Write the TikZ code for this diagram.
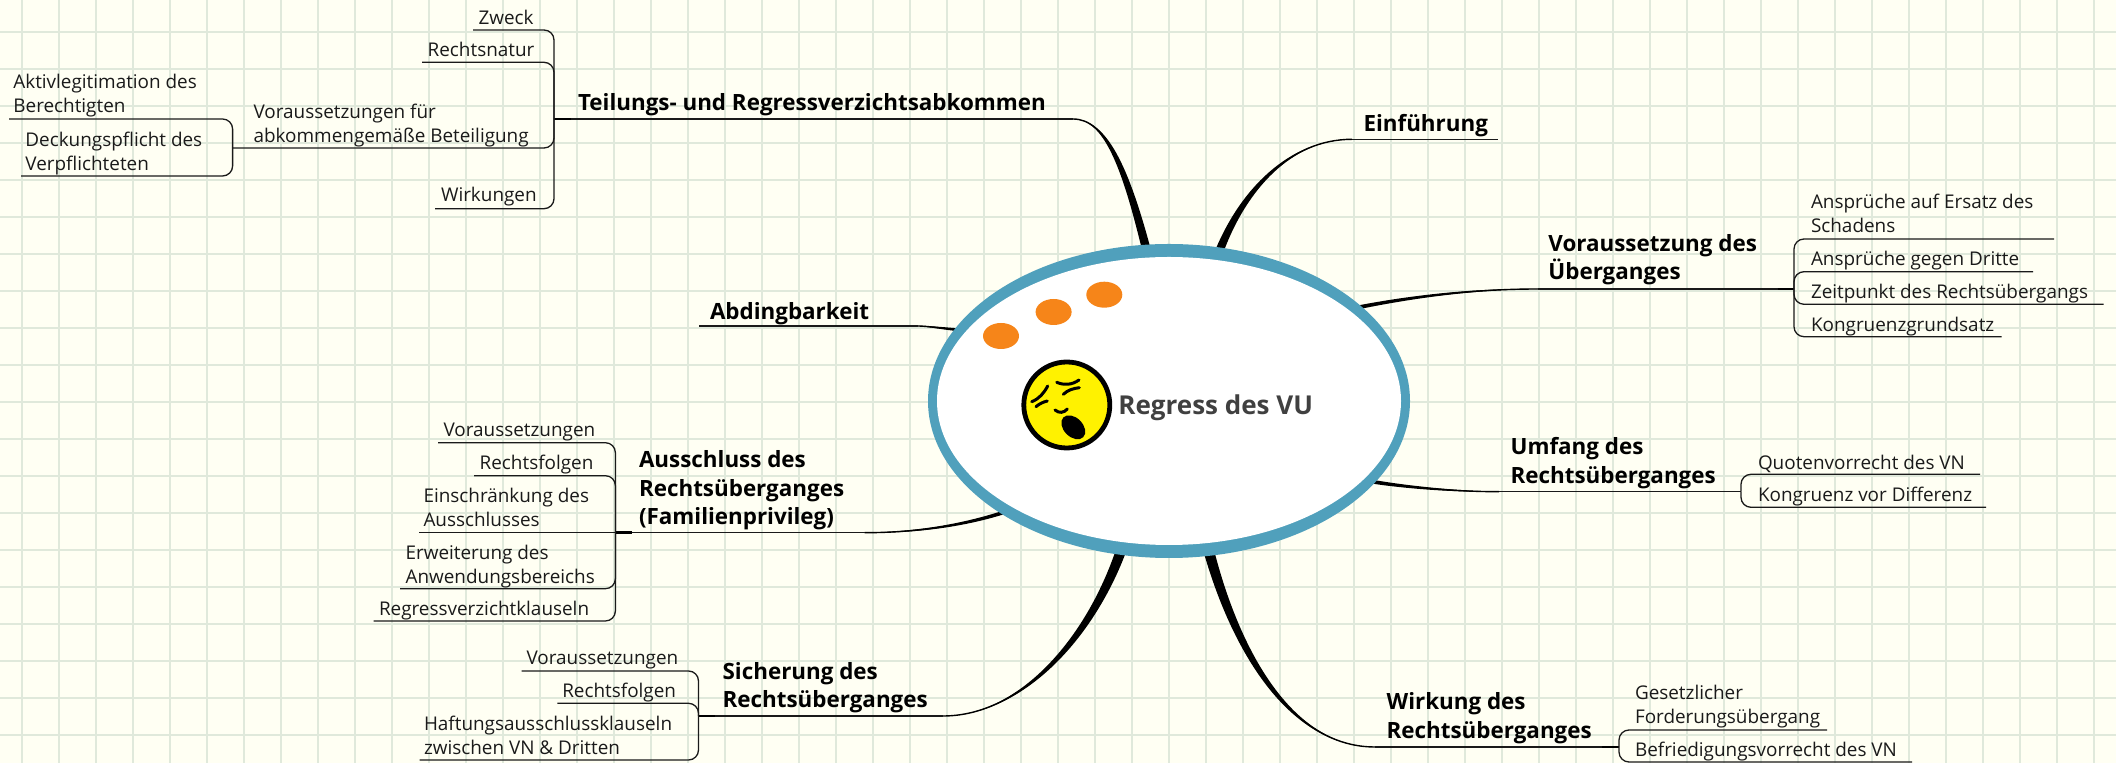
\documentclass[tikz,border=0pt]{standalone}
\usepackage{fontspec}
\setmainfont{Open Sans}
\usetikzlibrary{shapes.geometric}
\definecolor{paper}{HTML}{FFFFF3}
\definecolor{gridc}{HTML}{E0E9DB}
\definecolor{ringc}{HTML}{50A0BC}
\definecolor{dotc}{HTML}{F68519}
\definecolor{titlec}{HTML}{404040}
\definecolor{inkc}{HTML}{1A1A1A}
\tikzset{
  gridline/.style={draw=gridc,line width=0.85pt},
  leaflabel/.style={anchor=base west,inner sep=0pt,outer sep=0pt,align=left,text=inkc,font=\fontsize{9.45}{12}\selectfont},
  mainlabel/.style={anchor=base west,inner sep=0pt,outer sep=0pt,align=left,text=black,font=\bfseries\fontsize{11.2}{14.3}\selectfont},
  leafline/.style={draw=inkc,line width=0.65pt,rounded corners=5pt},
  mainline/.style={draw=inkc,line width=0.7pt},
  stubline/.style={draw=black,line width=1.2pt},
  blob/.style={fill=dotc},
  facestroke/.style={draw=black,line width=1.5pt,line cap=round},
}
\newcommand{\taper}[6]{% start, c1, c2, end, half dx, half dy
  \fill[black] ([shift={(#5,#6)}]#1) .. controls ([shift={(0.75*#5,0.75*#6)}]#2) and ([shift={(0.35*#5,0.35*#6)}]#3) .. (#4) .. controls ([shift={(-0.35*#5,-0.35*#6)}]#3) and ([shift={(-0.75*#5,-0.75*#6)}]#2) .. ([shift={(-#5,-#6)}]#1) -- cycle;
  \draw[black,line width=0.7pt] (#1) .. controls (#2) and (#3) .. (#4);}
\begin{document}
\begin{tikzpicture}[x=0.5pt,y=-0.5pt]
\useasboundingbox (0,0) rectangle (2116,763);
\fill[paper] (0,0) rectangle (2116,763);
\foreach \gx in {0,...,57} {\draw[gridline] ({22.3+37*\gx},0) -- ({22.3+37*\gx},763);}
\foreach \gy in {0,...,20} {\draw[gridline] (0,{31.7+37*\gy}) -- (2116,{31.7+37*\gy});}

% ---------- main branch connectors (tapered curves)
\coordinate (tS) at (1147,252); \coordinate (tE) at (1073,119);
\taper{tS}{1125,165}{1105,119}{tE}{4.5}{0}
\coordinate (eS) at (1219,252); \coordinate (eE) at (1352,139.3);
\taper{eS}{1243,190}{1290,139.3}{eE}{4.5}{0}
\coordinate (vS) at (1355,308); \coordinate (vE) at (1538,289);
\taper{vS}{1420,295}{1480,289}{vE}{0}{2}
\coordinate (uS) at (1368,481); \coordinate (uE) at (1499,491.7);
\taper{uS}{1410,488}{1460,491.7}{uE}{0}{2}
\coordinate (wS) at (1208,548); \coordinate (wE) at (1375,747);
\taper{wS}{1235,650}{1290,747}{wE}{5.5}{0}
\coordinate (sS) at (1122,548); \coordinate (sE) at (943,716);
\taper{sS}{1090,640}{1020,716}{sE}{5.5}{0}
\coordinate (aS) at (1008,511); \coordinate (aE) at (864.5,532.7);
\taper{aS}{960,527}{910,532.7}{aE}{0}{2}
\coordinate (dS) at (960,330); \coordinate (dE) at (918,326);
\taper{dS}{940,328}{925,326}{dE}{0}{1.5}

% ---------- centre
\node[ellipse,fill=ringc,inner sep=0pt,minimum width=241pt,minimum height=157pt] (ring) at (1169,401) {};
\node[ellipse,fill=white,inner sep=0pt,minimum width=232pt,minimum height=144pt] (core) at (1169,401) {};
\fill[blob] (1001,336) circle[x radius=18,y radius=13];
\fill[blob] (1053.6,312) circle[x radius=18,y radius=13];
\fill[blob] (1104.3,294.7) circle[x radius=18,y radius=13];
\filldraw[fill=yellow,draw=black,line width=2.4pt] (1066.8,405) circle[radius=43];
\fill[black,rotate around={-45:(1073.3,427.3)}] (1073.3,427.3) circle[x radius=14,y radius=9.5];
\draw[facestroke] (1056.7,382.3) .. controls (1064,385.5) and (1072,385) .. (1079,380);
\draw[facestroke] (1063.3,394.3) .. controls (1068,390) and (1073,388.5) .. (1079.3,387.7);
\draw[facestroke] (1031.7,401.7) .. controls (1039,399) and (1044,393) .. (1047.7,386);
\draw[facestroke] (1036,406.7) .. controls (1039,404) and (1043,402) .. (1047.3,401);
\draw[facestroke] (1055,410) .. controls (1059,413.5) and (1064,413) .. (1067.3,409);
\node[anchor=base west,inner sep=0pt,text=titlec,font=\bfseries\fontsize{13}{16}\selectfont] (vu) at (1118,415) {Regress des VU};

% ---------- Teilungs- und Regressverzichtsabkommen
\node[mainlabel] (teil) at (578,110.7) {Teilungs- und Regressverzichtsabkommen};
\coordinate (h1) at (554,119);
\draw[mainline] (h1) -- (tE);
\draw[stubline] (h1) -- (571,119);
\node[leaflabel] (zweck) at (478.6,25) {Zweck};
\node[leaflabel] (rnat) at (427.7,57) {Rechtsnatur};
\node[leaflabel] (vfb) at (253.6,142.7) {Voraussetzungen für\\abkommengemäße Beteiligung};
\node[leaflabel] (wirk) at (441,202) {Wirkungen};
\coordinate (zweckL) at (473,30); \coordinate (rnatL) at (422,62.3);
\coordinate (vfbL) at (232.6,148); \coordinate (wirkL) at (435,208.7);
\draw[leafline] (zweckL) -| (h1);
\draw[leafline] (rnatL) -| (h1);
\draw[leafline] (vfbL) -| (h1);
\draw[leafline] (wirkL) -| (h1);
\node[leaflabel] (akt) at (13.4,113) {Aktivlegitimation des\\Berechtigten};
\node[leaflabel] (deck) at (25.4,170.7) {Deckungspflicht des\\Verpflichteten};
\coordinate (aktL) at (9,119); \coordinate (deckL) at (21,176);
\draw[leafline] (aktL) -| (vfbL);
\draw[leafline] (deckL) -| (vfbL);

% ---------- Einführung
\node[mainlabel] (einf) at (1363.5,131.7) {Einführung};
\coordinate (einfR) at (1498,139.3);
\draw[mainline] (eE) -- (einfR);

% ---------- Voraussetzung des Überganges
\node[mainlabel] (vor) at (1548.4,280) {Voraussetzung des\\Überganges};
\coordinate (h2) at (1794,289);
\draw[mainline] (vE) -- (h2);
\draw[stubline] (1777.6,289) -- (h2);
\node[leaflabel] (ans1) at (1811,233) {Ansprüche auf Ersatz des\\Schadens};
\node[leaflabel] (ans2) at (1811,265.7) {Ansprüche gegen Dritte};
\node[leaflabel] (zeit) at (1811,299) {Zeitpunkt des Rechtsübergangs};
\node[leaflabel] (kon) at (1811,331.7) {Kongruenzgrundsatz};
\coordinate (ans1R) at (2054,239); \coordinate (ans2R) at (2033,271.7);
\coordinate (zeitR) at (2103.6,304.3); \coordinate (konR) at (2001.5,336.7);
\draw[leafline] (ans1R) -| (h2);
\draw[leafline] (ans2R) -| (h2);
\draw[leafline] (zeitR) -| (h2);
\draw[leafline] (konR) -| (h2);

% ---------- Umfang des Rechtsüberganges
\node[mainlabel] (umf) at (1510.6,483.3) {Umfang des\\Rechtsüberganges};
\coordinate (h3) at (1741,491.7);
\draw[mainline] (uE) -- (h3);
\node[leaflabel] (quo) at (1758,469.3) {Quotenvorrecht des VN};
\node[leaflabel] (kvd) at (1758,501.7) {Kongruenz vor Differenz};
\coordinate (quoR) at (1980,474.3); \coordinate (kvdR) at (1986,507.3);
\draw[leafline] (quoR) -| (h3);
\draw[leafline] (kvdR) -| (h3);

% ---------- Wirkung des Rechtsüberganges
\node[mainlabel] (wrk) at (1386.6,738.3) {Wirkung des\\Rechtsüberganges};
\coordinate (h4) at (1619,747);
\draw[mainline] (wE) -- (h4);
\draw[stubline] (1602,747) -- (h4);
\node[leaflabel] (ges) at (1635,724) {Gesetzlicher\\Forderungsübergang};
\node[leaflabel] (bef) at (1635,756.7) {Befriedigungsvorrecht des VN};
\coordinate (gesR) at (1827,730); \coordinate (befR) at (1912,762);
\draw[leafline] (gesR) -| (h4);
\draw[leafline] (befR) -| (h4);

% ---------- Abdingbarkeit
\node[mainlabel] (abd) at (710,320) {Abdingbarkeit};
\coordinate (abdL) at (699,326);
\draw[mainline] (abdL) -- (dE);

% ---------- Ausschluss des Rechtsüberganges
\node[mainlabel] (aus) at (639,525) {Ausschluss des\\Rechtsüberganges\\(Familienprivileg)};
\coordinate (h5) at (615.4,532.7);
\draw[mainline] (h5) -- (aE);
\draw[stubline] (h5) -- (632,532.7);
\node[leaflabel] (av) at (443.6,436.7) {Voraussetzungen};
\node[leaflabel] (ar) at (479.7,470) {Rechtsfolgen};
\node[leaflabel] (ae) at (423.5,527) {Einschränkung des\\Ausschlusses};
\node[leaflabel] (aw) at (405.6,583.3) {Erweiterung des\\Anwendungsbereichs};
\node[leaflabel] (ak) at (379,616) {Regressverzichtklauseln};
\coordinate (avL) at (438,442.7); \coordinate (arL) at (474,475.7);
\coordinate (aeL) at (419,532.7); \coordinate (awL) at (400,588.7);
\coordinate (akL) at (373.5,621);
\draw[leafline] (avL) -| (h5);
\draw[leafline] (arL) -| (h5);
\draw[leafline] (aeL) -- (h5);
\draw[leafline] (awL) -| (h5);
\draw[leafline] (akL) -| (h5);

% ---------- Sicherung des Rechtsüberganges
\node[mainlabel] (sic) at (722.6,707.7) {Sicherung des\\Rechtsüberganges};
\coordinate (h6) at (698.5,716);
\draw[mainline] (h6) -- (sE);
\draw[stubline] (h6) -- (715,716);
\node[leaflabel] (sv) at (526.6,665) {Voraussetzungen};
\node[leaflabel] (sr) at (562.3,697.7) {Rechtsfolgen};
\node[leaflabel] (sh) at (424,755) {Haftungsausschlussklauseln\\zwischen VN \& Dritten};
\coordinate (svL) at (521.7,671); \coordinate (srL) at (557.4,703.3); \coordinate (shL) at (419.5,760);
\draw[leafline] (svL) -| (h6);
\draw[leafline] (srL) -| (h6);
\draw[leafline] (shL) -| (h6);
\end{tikzpicture}
\end{document}
